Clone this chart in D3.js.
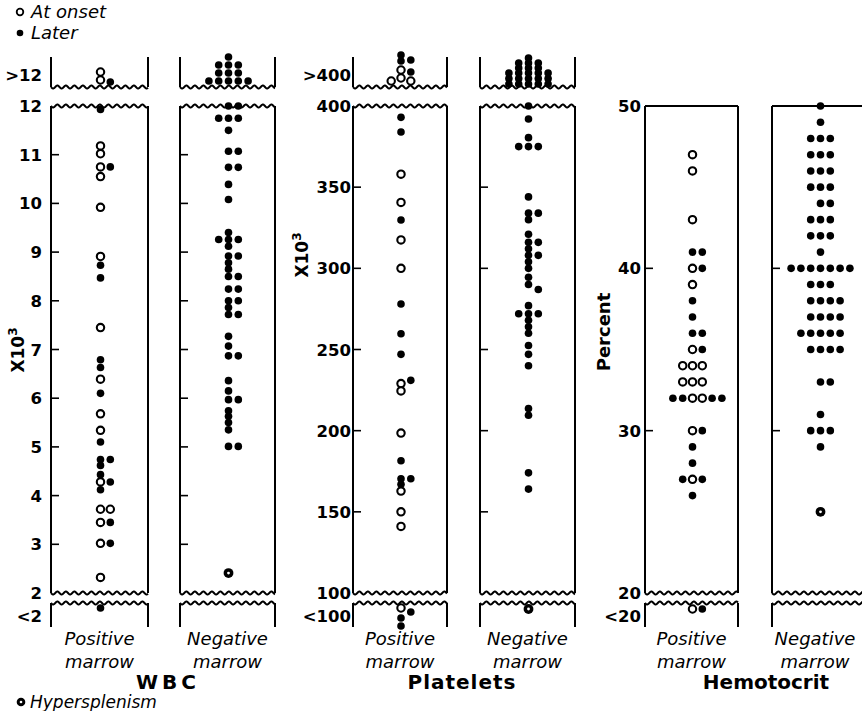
<!DOCTYPE html>
<html><head><meta charset="utf-8">
<script src="https://cdn.jsdelivr.net/npm/d3@7"></script>
<style>body{margin:0;background:#fff}svg{display:block}</style>
</head><body><svg id="c" width="862" height="711"></svg>
<script>
// ---------------- DATA ----------------
const wbcTicks = [12, 11, 10, 9, 8, 7, 6, 5, 4, 3, 2];
const plateletTicks = [400, 350, 300, 250, 200, 150, 100];
const hctTicks = [50, 40, 30, 20];

// WBC (x10^3); values above 12 / below 2 fall in the overflow boxes
const wbcPosOnset = [11.18, 11.02, 10.75, 10.55, 9.92, 8.91, 7.45, 6.39, 5.68, 5.34, 4.28, 3.72, 3.72, 3.45, 3.02, 2.32, 13.5, 12.7];
const wbcPosLater = [11.93, 10.75, 8.73, 8.47, 6.79, 6.63, 6.10, 5.10, 4.74, 4.74, 4.62, 4.43, 4.28, 4.12, 3.45, 3.02, 12.5, 1.5];
const wbcPosHyper = [];
const wbcNegOnset = [];
const wbcNegLater = [12.0, 12.0, 11.75, 11.75, 11.75, 11.5, 11.07, 11.07, 10.74, 10.74, 10.39, 10.08, 9.40, 9.26, 9.26, 9.26, 9.12,
  8.92, 8.92, 8.78, 8.65, 8.50, 8.50, 8.24, 8.24, 8.0, 8.0, 7.86, 7.72, 7.72, 7.27, 7.07, 6.87, 6.87, 6.36, 6.15, 5.97, 5.97,
  5.74, 5.63, 5.50, 5.35, 5.01, 5.01,
  15.0, 14.2, 14.2, 14.2, 13.4, 13.4, 13.4, 12.6, 12.6, 12.6, 12.6, 12.6];
const wbcNegHyper = [2.41];

// Platelets (x10^3)
const pltPosOnset = [358, 340.6, 317.5, 300, 229, 224.5, 198.5, 162.8, 150, 141, 434, 418, 412, 412, 90];
const pltPosLater = [393, 384, 329.8, 278, 259.7, 247, 231, 181.5, 170.4, 170.4, 167, 464, 452, 454, 430, 82, 70, 54];
const pltPosHyper = [];
const pltNegOnset = [];
const pltNegLater = [400, 392, 380.5, 375, 375, 375, 344, 334, 334, 330, 321, 316, 316, 312, 308, 308, 304, 300, 294.5, 290, 287,
  277, 272, 272, 272, 268, 264, 260, 252.5, 247, 240, 213.6, 209.5, 174, 164,
  458, 448, 448, 448, 438, 438, 438, 428, 428, 428, 428, 428, 417, 417, 417, 417, 417, 406, 406, 406, 406, 406];
const pltNegHyper = [88];

// Hematocrit (percent)
const hctPosOnset = [47, 46, 43, 40, 39, 35, 34, 34, 34, 33, 33, 33, 32, 32, 30, 27, 19.4];
const hctPosLater = [41, 41, 40, 38, 37, 36, 36, 35, 32, 32, 32, 32, 30, 29, 28, 27, 27, 26, 19.4];
const hctPosHyper = [];
const hctNegOnset = [];
const hctNegLater = [50, 49, 48, 48, 48, 47, 47, 47, 46, 46, 46, 45, 45, 45, 44, 44, 43, 43, 43, 42, 42, 42, 41,
  40, 40, 40, 40, 40, 40, 40, 39, 39, 39, 38, 38, 38, 38, 37, 37, 37, 37, 36, 36, 36, 36, 36, 35, 35, 35, 35,
  33, 33, 31, 30, 30, 30, 29];
const hctNegHyper = [25];

// ---------------- LAYOUT ----------------
const svg = d3.select("#c");
const TOP = 106, BOT = 593, UP_TOP = 57, UP_BOT = 87, LOW_TOP = 603, LOW_BOT = 627;
const FONT = "'DejaVu Sans', sans-serif";
const IFONT = "'DejaVu Sans', sans-serif";

function wavy(x0, x1, y, amp = 1.5, wl = 8.5) {
  const pts = d3.range(x0, x1 + 0.01, 0.5).map(x => [x, y + amp * Math.sin((x - x0) / wl * 2 * Math.PI)]);
  return d3.line()(pts);
}

const groups = [
  { title: "WBC", tx: 168, ls: 4, ticks: wbcTicks, lo: 2, hi: 12, span: 3, over: ">12", under: "<2", lblEnd: 42,
    unit: { x: 24, y: 350 }, upper: true, straightTop: false,
    boxes: [
      { x0: 51, x1: 148, onset: wbcPosOnset, later: wbcPosLater, hyper: wbcPosHyper, cat: ["Positive", "marrow"] },
      { x0: 180, x1: 275, onset: wbcNegOnset, later: wbcNegLater, hyper: wbcNegHyper, cat: ["Negative", "marrow"] }] },
  { title: "Platelets", tx: 462, ls: 1, ticks: plateletTicks, lo: 100, hi: 400, span: 60, over: ">400", under: "<100", lblEnd: 351,
    unit: { x: 308, y: 255 }, upper: true, straightTop: false,
    boxes: [
      { x0: 353, x1: 447, onset: pltPosOnset, later: pltPosLater, hyper: pltPosHyper, cat: ["Positive", "marrow"] },
      { x0: 480, x1: 575, onset: pltNegOnset, later: pltNegLater, hyper: pltNegHyper, cat: ["Negative", "marrow"] }] },
  { title: "Hemotocrit", tx: 766, ls: 0, ticks: hctTicks, lo: 20, hi: 50, span: 3, over: null, under: "<20", lblEnd: 641,
    unit: null, upper: false, straightTop: true,
    boxes: [
      { x0: 645, x1: 738, onset: hctPosOnset, later: hctPosLater, hyper: hctPosHyper, cat: ["Positive", "marrow"] },
      { x0: 772, x1: 867, onset: hctNegOnset, later: hctNegLater, hyper: hctNegHyper, cat: ["Negative", "marrow"] }] }
];

const line = (d, w = 2) => svg.append("path").attr("d", d).attr("fill", "none").attr("stroke", "#000").attr("stroke-width", w).attr("stroke-linejoin", "round");

groups.forEach(g => {
  const yMain = d3.scaleLinear().domain([g.lo, g.hi]).range([BOT, TOP]);
  const yUp = d3.scaleLinear().domain([g.hi, g.hi + g.span]).range([UP_BOT, UP_TOP]);
  const yLow = d3.scaleLinear().domain([g.lo, g.lo - g.span]).range([LOW_TOP, LOW_TOP + 30]);
  const yOf = v => v > g.hi ? yUp(v) : (v < g.lo ? yLow(v) : yMain(v));

  // tick labels (left of positive box)
  const lab = svg.append("g").attr("font-family", FONT).attr("font-weight", "bold").attr("font-size", 16.5)
    .attr("text-anchor", "end");
  g.ticks.forEach(t => lab.append("text").attr("x", g.lblEnd).attr("y", yMain(t) + 6).text(t));
  if (g.over) lab.append("text").attr("x", g.lblEnd).attr("y", 81).text(g.over);
  if (g.under) lab.append("text").attr("x", g.lblEnd).attr("y", 622).text(g.under);

  g.boxes.forEach((b, bi) => {
    // frames
    if (g.upper) {
      line(`M${b.x0},${UP_TOP}L${b.x0},${UP_BOT}`);
      line(`M${b.x1},${UP_TOP}L${b.x1},${UP_BOT}`);
      line(wavy(b.x0, b.x1, UP_BOT));
    }
    if (g.straightTop) line(`M${b.x0},${TOP}L${b.x1},${TOP}`);
    else line(wavy(b.x0, b.x1, TOP));
    line(`M${b.x0},${TOP}L${b.x0},${BOT}`);
    line(`M${b.x1},${TOP}L${b.x1},${BOT}`);
    line(wavy(b.x0, b.x1, BOT));
    line(wavy(b.x0, b.x1, LOW_TOP));
    line(`M${b.x0},${LOW_TOP}L${b.x0},${LOW_BOT}`);
    line(`M${b.x1},${LOW_TOP}L${b.x1},${LOW_BOT}`);
    // inward ticks
    g.ticks.filter(t => t > g.lo && t < g.hi).forEach(t =>
      line(`M${b.x0},${yMain(t)}L${b.x0 + 8},${yMain(t)}`, 1.6));

    // points, dodge layout
    const cx = (b.x0 + b.x1) / 2 + 1;
    const pts = [];
    b.onset.forEach(v => pts.push({ v, t: "O" }));
    b.later.forEach(v => pts.push({ v, t: "F" }));
    b.hyper.forEach(v => pts.push({ v, t: "H" }));
    const step = 9.8, minD = 5;
    const placed = [];
    pts.forEach(p => {
      p.y = yOf(p.v);
      for (let k = 0; k < 30; k++) {
        const off = k === 0 ? 0 : (k % 2 ? (k + 1) / 2 : -k / 2);
        const x = cx + off * step;
        if (placed.every(q => Math.hypot(q.x - x, q.y - p.y) >= minD)) { p.x = x; break; }
      }
      placed.push(p);
    });
    const dots = svg.append("g");
    pts.forEach(p => {
      if (p.t === "F") dots.append("circle").attr("cx", p.x).attr("cy", p.y).attr("r", 3.8).attr("fill", "#000");
      else if (p.t === "O") dots.append("circle").attr("cx", p.x).attr("cy", p.y).attr("r", 3.7)
        .attr("fill", "#fff").attr("stroke", "#000").attr("stroke-width", 2.1);
      else {
        dots.append("circle").attr("cx", p.x).attr("cy", p.y).attr("r", 4.9).attr("fill", "#000");
        dots.append("circle").attr("cx", p.x).attr("cy", p.y).attr("r", 1.4).attr("fill", "#fff");
      }
    });

    // category labels
    const cxl = Math.min((b.x0 + b.x1) / 2, 815);
    const cl = svg.append("g").attr("font-family", IFONT).attr("font-style", "italic").attr("font-size", 18)
      .attr("text-anchor", "middle");
    cl.append("text").attr("x", cxl).attr("y", 645).text(b.cat[0]);
    cl.append("text").attr("x", cxl).attr("y", 668).text(b.cat[1]);
  });

  svg.append("text").attr("x", g.tx).attr("y", 689).attr("text-anchor", "middle").attr("letter-spacing", g.ls)
    .attr("font-family", FONT).attr("font-weight", "bold").attr("font-size", 20).text(g.title);

  if (g.unit) {
    const u = svg.append("text").attr("transform", `translate(${g.unit.x},${g.unit.y}) rotate(-90)`)
      .attr("text-anchor", "middle").attr("font-family", FONT).attr("font-weight", "bold").attr("font-size", 17);
    u.append("tspan").text("X10");
    u.append("tspan").attr("dy", -7).attr("font-size", 12).text("3");
  }
});

svg.append("text").attr("transform", "translate(610,332) rotate(-90)").attr("text-anchor", "middle")
  .attr("font-family", FONT).attr("font-weight", "bold").attr("font-size", 18).text("Percent");

// legend
const lg = svg.append("g").attr("font-family", IFONT).attr("font-style", "italic").attr("font-size", 18);
svg.append("circle").attr("cx", 20).attr("cy", 12).attr("r", 3.3).attr("fill", "#fff").attr("stroke", "#000").attr("stroke-width", 1.8);
lg.append("text").attr("x", 31).attr("y", 18).text("At onset");
svg.append("circle").attr("cx", 20).attr("cy", 33).attr("r", 3.3).attr("fill", "#000");
lg.append("text").attr("x", 31).attr("y", 39).text("Later");
svg.append("circle").attr("cx", 21).attr("cy", 702).attr("r", 4.3).attr("fill", "#000");
svg.append("circle").attr("cx", 21).attr("cy", 702).attr("r", 1.3).attr("fill", "#fff");
lg.append("text").attr("x", 30).attr("y", 708).attr("font-size", 17).text("Hypersplenism");
</script></body></html>
